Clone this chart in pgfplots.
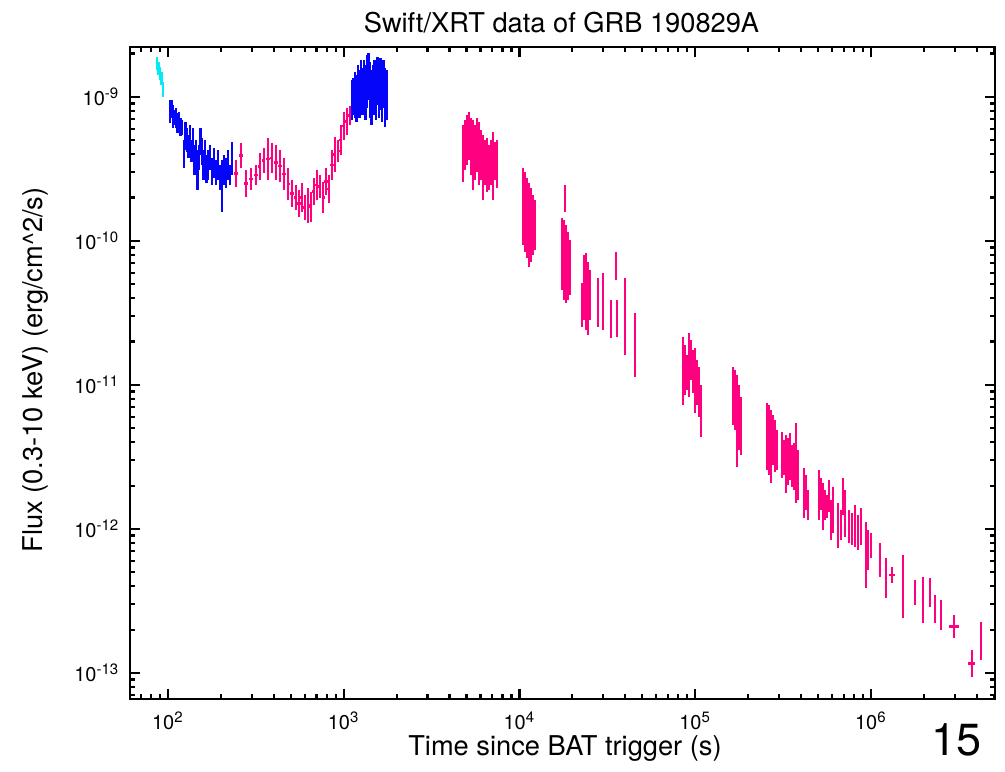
\documentclass[border=0pt]{standalone}
\usepackage{fontspec}
\setmainfont{TeX Gyre Heros}
\usepackage{pgfplots}
\usepackage{pgfplotstable}
\pgfplotsset{compat=1.18}
\definecolor{xcyan}{RGB}{0,235,245}
\definecolor{xblue}{RGB}{5,5,250}
\definecolor{xpink}{RGB}{255,0,128}

% t = time (s), lo/hi = ends of the flux error bar, xr = relative half-width of time bin
\pgfplotstableread{
t lo hi xr
86.6 1.54e-9 1.90e-9 0
88.3 1.42e-9 1.75e-9 0
90.1 1.31e-9 1.62e-9 0
91.8 1.21e-9 1.49e-9 0
93.7 1.00e-9 1.27e-9 0
}\cyandata

\pgfplotstableread{
t lo hi xr
102.6 0.660e-9 0.953e-9 0
104.7 0.715e-9 0.953e-9 0
106.8 0.609e-9 0.880e-9 0
108.9 0.639e-9 0.812e-9 0
111.1 0.609e-9 0.839e-9 0
113.3 0.562e-9 0.774e-9 0
115.5 0.571e-9 0.787e-9 0
117.8 0.536e-9 0.715e-9 0
120.1 0.545e-9 0.692e-9 0
123.3 0.321e-9 0.503e-9 0
125.8 0.428e-9 0.671e-9 0
128.3 0.415e-9 0.609e-9 0
130.8 0.377e-9 0.545e-9 0
133.4 0.464e-9 0.639e-9 0
136.0 0.354e-9 0.503e-9 0
138.7 0.428e-9 0.609e-9 0
141.5 0.287e-9 0.464e-9 0
144.3 0.337e-9 0.503e-9 0
147.1 0.226e-9 0.428e-9 0
150.0 0.311e-9 0.464e-9 0
153.0 0.396e-9 0.609e-9 0
156.1 0.337e-9 0.519e-9 0
159.2 0.265e-9 0.428e-9 0
162.3 0.311e-9 0.503e-9 0
165.6 0.253e-9 0.396e-9 0
168.9 0.265e-9 0.428e-9 0
173.4 0.311e-9 0.464e-9 0
178.0 0.245e-9 0.377e-9 0
182.7 0.274e-9 0.442e-9 0
187.5 0.245e-9 0.365e-9 0
192.6 0.265e-9 0.428e-9 0
197.6 0.226e-9 0.337e-9 0
202.9 0.159e-9 0.365e-9 0
208.2 0.245e-9 0.396e-9 0
213.7 0.233e-9 0.377e-9 0
219.4 0.265e-9 0.428e-9 0
225.2 0.245e-9 0.337e-9 0
231.1 0.287e-9 0.487e-9 0
1114 0.692e-9 1.312e-9 0
1136 0.750e-9 1.355e-9 0
1159 0.715e-9 1.491e-9 0
1182 0.671e-9 1.421e-9 0
1205 0.812e-9 1.668e-9 0
1229 0.715e-9 1.540e-9 0
1254 0.880e-9 1.806e-9 0
1278 0.750e-9 1.590e-9 0
1304 0.953e-9 1.806e-9 0
1330 0.692e-9 1.668e-9 0
1356 0.839e-9 1.957e-9 0
1383 0.953e-9 2.020e-9 0
1411 0.715e-9 1.750e-9 0
1439 0.639e-9 1.540e-9 0
1467 0.812e-9 1.668e-9 0
1496 0.750e-9 1.806e-9 0
1526 0.692e-9 1.540e-9 0
1556 0.880e-9 1.896e-9 0
1587 0.715e-9 1.750e-9 0
1619 0.812e-9 1.866e-9 0
1651 0.671e-9 1.668e-9 0
1684 0.839e-9 1.806e-9 0
1717 0.619e-9 1.590e-9 0
1751 0.692e-9 1.540e-9 0
}\bluedata

\pgfplotstableread{
t lo hi xr
243.7 0.237e-9 0.365e-9 0.03
260.3 0.321e-9 0.479e-9 0.03
277.9 0.202e-9 0.311e-9 0.03
296.7 0.226e-9 0.321e-9 0.03
316.7 0.245e-9 0.337e-9 0.03
333.8 0.265e-9 0.409e-9 0.02
351.8 0.297e-9 0.443e-9 0.02
371.0 0.265e-9 0.519e-9 0.02
390.6 0.297e-9 0.479e-9 0.02
411.7 0.265e-9 0.464e-9 0.02
433.9 0.257e-9 0.428e-9 0.02
457.3 0.226e-9 0.377e-9 0.02
482.3 0.193e-9 0.321e-9 0.02
507.7 0.172e-9 0.265e-9 0.02
535.0 0.164e-9 0.245e-9 0.02
556.5 0.147e-9 0.226e-9 0.02
578.7 0.159e-9 0.253e-9 0.02
601.9 0.140e-9 0.209e-9 0.02
626.9 0.133e-9 0.233e-9 0.02
651.2 0.136e-9 0.219e-9 0.02
677.2 0.178e-9 0.274e-9 0.02
704.3 0.193e-9 0.311e-9 0.02
732.6 0.199e-9 0.287e-9 0.02
763.2 0.157e-9 0.257e-9 0.02
793.0 0.209e-9 0.321e-9 0.02
824.0 0.184e-9 0.287e-9 0.02
857.7 0.265e-9 0.428e-9 0.02
891.7 0.302e-9 0.527e-9 0.02
929.0 0.354e-9 0.503e-9 0.02
964.6 0.396e-9 0.639e-9 0.02
1003 0.503e-9 0.787e-9 0.02
1043 0.545e-9 0.839e-9 0.02
1085 0.639e-9 0.866e-9 0.02
4770 0.257e-9 0.639e-9 0
4896 0.311e-9 0.692e-9 0
5027 0.337e-9 0.750e-9 0
5161 0.365e-9 0.787e-9 0
5297 0.287e-9 0.715e-9 0
5438 0.226e-9 0.692e-9 0
5582 0.265e-9 0.639e-9 0
5731 0.302e-9 0.715e-9 0
5883 0.245e-9 0.671e-9 0
6039 0.265e-9 0.590e-9 0
6199 0.193e-9 0.545e-9 0
6364 0.245e-9 0.503e-9 0
6533 0.219e-9 0.519e-9 0
6706 0.226e-9 0.464e-9 0
6885 0.245e-9 0.503e-9 0
7067 0.193e-9 0.571e-9 0
7255 0.265e-9 0.487e-9 0
7447 0.233e-9 0.503e-9 0
10470 9.38e-11 0.321e-9 0
10750 8.39e-11 0.302e-9 0
11030 7.62e-11 0.274e-9 0
11320 6.60e-11 0.253e-9 0
11630 7.15e-11 0.233e-9 0
11930 7.99e-11 0.209e-9 0
12250 8.66e-11 0.193e-9 0
17450 4.57e-11 0.1444e-9 0
17920 3.89e-11 0.1399e-9 0
18150 0.159e-9 0.245e-9 0
18390 3.71e-11 0.1292e-9 0
18880 3.89e-11 0.1155e-9 0
19380 4.22e-11 0.1016e-9 0
22680 2.53e-11 5.11e-11 0
23280 2.83e-11 7.99e-11 0
23900 2.41e-11 8.25e-11 0
24540 2.22e-11 7.15e-11 0
25180 2.83e-11 6.29e-11 0
27970 2.53e-11 5.54e-11 0
29870 2.41e-11 5.99e-11 0
33160 2.12e-11 3.89e-11 0
35400 5.36e-11 8.39e-11 0
35870 2.15e-11 3.89e-11 0
39840 1.62e-11 5.54e-11 0
45420 1.14e-11 3.16e-11 0
85200 7.26e-12 2.15e-11 0
87440 8.52e-12 1.90e-11 0
89770 9.23e-12 1.62e-11 0
92130 8.25e-12 2.30e-11 0
94580 1.08e-11 2.05e-11 0
97100 8.80e-12 1.75e-11 0
99670 6.39e-12 1.81e-11 0
102300 7.26e-12 1.49e-11 0
105000 6.00e-12 1.33e-11 0
107800 4.35e-12 1.00e-11 0
164000 5.27e-12 1.33e-11 0
168400 4.87e-12 1.27e-11 0
172800 2.70e-12 1.17e-11 0
177400 3.54e-12 1.00e-11 0
182100 3.27e-12 8.25e-12 0
256000 2.57e-12 7.50e-12 0
262800 2.37e-12 7.26e-12 0
269800 2.09e-12 6.71e-12 0
277000 2.78e-12 6.19e-12 0
284300 2.49e-12 5.71e-12 0
291900 2.57e-12 4.87e-12 0
311600 2.26e-12 4.72e-12 0
319900 2.37e-12 4.15e-12 0
328400 1.78e-12 4.50e-12 0
337200 2.02e-12 4.29e-12 0
346100 2.19e-12 4.63e-12 0
355100 1.96e-12 3.83e-12 0
364700 1.87e-12 3.96e-12 0
374400 1.52e-12 5.45e-12 0
384200 1.59e-12 3.54e-12 0
415700 1.19e-12 2.65e-12 0
426800 1.36e-12 2.37e-12 0
438000 1.15e-12 1.87e-12 0
506000 1.15e-12 2.57e-12 0
519400 1.36e-12 2.26e-12 0
533200 9.84e-13 2.09e-12 0
547400 1.15e-12 1.87e-12 0
561700 1.19e-12 1.72e-12 0
576800 1.31e-12 2.19e-12 0
592100 8.39e-13 1.59e-12 0
607900 9.38e-13 1.96e-12 0
649000 7.38e-13 1.52e-12 0
675100 8.39e-13 1.36e-12 0
693000 1.25e-12 2.26e-12 0
711400 8.80e-13 1.87e-12 0
749700 8.00e-13 1.36e-12 0
779700 7.75e-13 1.29e-12 0
811000 7.50e-13 1.47e-12 0
843400 7.15e-13 1.25e-12 0
877200 7.75e-13 1.40e-12 0
936300 3.89e-13 1.12e-12 0
961400 5.19e-13 9.84e-13 0
1000000 6.29e-13 9.38e-13 0
1125000 4.64e-13 7.99e-13 0
1217000 3.32e-13 6.29e-13 0
1317000 4.22e-13 5.45e-13 0.035
1521000 2.41e-13 6.60e-13 0
1780000 2.97e-13 4.42e-13 0
1976000 2.22e-13 4.64e-13 0
2166000 2.87e-13 4.57e-13 0
2313000 2.22e-13 3.48e-13 0
2502000 1.99e-13 3.21e-13 0
2967000 1.75e-13 2.53e-13 0.065
3755000 0.938e-13 1.44e-13 0.045
4230000 1.23e-13 2.26e-13 0
}\pinkdata

\pgfplotsset{
  xrt/.style={draw=none, mark=none, color=#1,
    error bars/.cd, y dir=both, y explicit, x dir=both, x explicit,
    error mark=none,
    error bar style={draw=#1, line width=1.1pt}},
  table/xrttable/.style={x=t,
    y expr={sqrt(\thisrow{lo}*\thisrow{hi})},
    y error plus expr={\thisrow{hi}-sqrt(\thisrow{lo}*\thisrow{hi})},
    y error minus expr={sqrt(\thisrow{lo}*\thisrow{hi})-\thisrow{lo}},
    x error expr={\thisrow{t}*\thisrow{xr}}}
}

\begin{document}
\begin{tikzpicture}
\useasboundingbox (-52pt,-28.8pt) rectangle (350pt,279.6pt);
\begin{axis}[
  scale only axis, width=346pt, height=260.8pt,
  xmode=log, ymode=log,
  xmin=60.8, xmax=5.08e6, ymin=6.6e-14, ymax=2.22e-9,
  axis line style={line width=1.1pt},
  xtick={1e2,1e3,1e4,1e5,1e6},
  xticklabels={10\textsuperscript{2},10\textsuperscript{3},10\textsuperscript{4},10\textsuperscript{5},10\textsuperscript{6}},
  ytick={1e-13,1e-12,1e-11,1e-10,1e-9},
  yticklabels={10\textsuperscript{-13},10\textsuperscript{-12},10\textsuperscript{-11},10\textsuperscript{-10},10\textsuperscript{-9}},
  minor xtick={70,80,90,200,300,400,500,600,700,800,900,2000,3000,4000,5000,6000,7000,8000,9000,20000,30000,40000,50000,60000,70000,80000,90000,200000,300000,400000,500000,600000,700000,800000,900000,2000000,3000000,4000000,5000000},
  minor ytick={7e-14,8e-14,9e-14,2e-13,3e-13,4e-13,5e-13,6e-13,7e-13,8e-13,9e-13,2e-12,3e-12,4e-12,5e-12,6e-12,7e-12,8e-12,9e-12,2e-11,3e-11,4e-11,5e-11,6e-11,7e-11,8e-11,9e-11,2e-10,3e-10,4e-10,5e-10,6e-10,7e-10,8e-10,9e-10,2e-9},
  major tick length=4pt, minor tick length=2pt,
  every tick/.style={black, line width=0.9pt},
  tick label style={font=\fontsize{8}{9}\selectfont},
  xticklabel style={anchor=north, inner sep=0pt, yshift=-5pt},
  yticklabel style={anchor=east, inner sep=0pt, xshift=-4pt},
]
\addplot[xrt=xpink] table[xrttable] {\pinkdata};
\addplot[xrt=xblue] table[xrttable] {\bluedata};
\addplot[xrt=xcyan] table[xrttable] {\cyandata};
\end{axis}
\node[anchor=base, font=\fontsize{10.9}{13}\selectfont] at (172.6pt,266.7pt) {Swift/XRT data of GRB 190829A};
\node[anchor=base, font=\fontsize{10.9}{13}\selectfont] at (174pt,-22.4pt) {Time since BAT trigger (s)};
\node[rotate=90, anchor=base, font=\fontsize{10.9}{13}\selectfont] at (-34.8pt,131.6pt) {Flux (0.3-10 keV) (erg/cm\textasciicircum 2/s)};
\node[anchor=base east, font=\fontsize{18}{21}\selectfont] at (344pt,-22.4pt) {15};
\end{tikzpicture}
\end{document}
